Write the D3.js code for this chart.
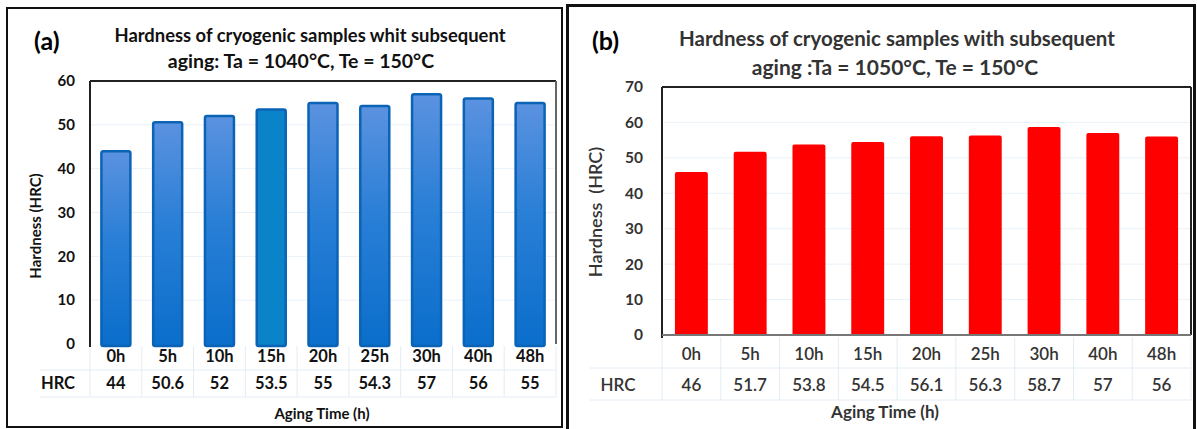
<!DOCTYPE html>
<html>
<head>
<meta charset="utf-8">
<script src="https://cdn.jsdelivr.net/npm/d3@7/dist/d3.min.js"></script>
<style>
  html, body { margin: 0; padding: 0; background: #fff; }
  svg { display: block; }
  text { font-family: Lato, "Open Sans", sans-serif; }
</style>
</head>
<body>
<svg id="chart" width="1197" height="429"></svg>
<script>
// Aging times shared by both series
const categories = ["0h", "5h", "10h", "15h", "20h", "25h", "30h", "40h", "48h"];

// Hardness (HRC) after cryogenic treatment and aging
const hardnessA = [44, 50.6, 52, 53.5, 55, 54.3, 57, 56, 55];        // Ta = 1040 °C
const hardnessB = [46, 51.7, 53.8, 54.5, 56.1, 56.3, 58.7, 57, 56];  // Ta = 1050 °C

// Y-axis ticks
const ticksA = [0, 10, 20, 30, 40, 50, 60];
const ticksB = [0, 10, 20, 30, 40, 50, 60, 70];

// Text
const titleA = ["Hardness of cryogenic samples whit subsequent", "aging: Ta = 1040°C, Te = 150°C"];
const titleB = ["Hardness of cryogenic samples with subsequent", "aging :Ta = 1050°C, Te = 150°C"];

const svg = d3.select("#chart");
const defs = svg.append("defs");

const grad = defs.append("linearGradient")
  .attr("id", "blueBar").attr("x1", 0).attr("y1", 0).attr("x2", 0).attr("y2", 1);
grad.append("stop").attr("offset", "0%").attr("stop-color", "#5b92e0");
grad.append("stop").attr("offset", "45%").attr("stop-color", "#2a7fd6");
grad.append("stop").attr("offset", "100%").attr("stop-color", "#0a6ecb");

function drawPanel(p) {
  const g = svg.append("g");

  // panel frame
  g.append("rect")
    .attr("x", p.box[0]).attr("y", p.box[1])
    .attr("width", p.box[2]).attr("height", p.box[3])
    .attr("fill", "none").attr("stroke", "#111").attr("stroke-width", p.boxStroke);

  const x = d3.scaleBand().domain(p.categories).range([p.left, p.right])
    .paddingInner(0.44).paddingOuter(0.22);
  const y = d3.scaleLinear().domain([0, d3.max(p.ticks)]).range([p.bottom, p.top]);
  const step = x.step();

  // gridlines
  g.append("g").selectAll("line").data(p.ticks.slice(1, -1)).join("line")
    .attr("x1", p.left).attr("x2", p.right)
    .attr("y1", d => y(d)).attr("y2", d => y(d))
    .attr("stroke", "#e9f2f9").attr("stroke-width", 1);

  // table grid under the axis
  const tg = g.append("g").attr("stroke", "#e3ecf5").attr("stroke-width", 1);
  const edges = p.categories.map(c => x(c) + x.bandwidth() / 2 - step / 2).concat([p.right]);
  tg.selectAll("line.v").data(edges).join("line").attr("class", "v")
    .attr("x1", d => d).attr("x2", d => d)
    .attr("y1", p.bottom + 2).attr("y2", p.tableBottom);
  tg.append("line").attr("x1", p.tableLeft).attr("x2", p.right)
    .attr("y1", p.rowSplit).attr("y2", p.rowSplit);
  tg.append("line").attr("x1", p.tableLeft).attr("x2", p.right)
    .attr("y1", p.tableBottom).attr("y2", p.tableBottom);

  // bars
  g.append("g").selectAll("rect").data(p.values).join("rect")
    .attr("x", (d, i) => x(p.categories[i]))
    .attr("y", d => y(d))
    .attr("width", x.bandwidth())
    .attr("height", d => p.bottom - y(d) + p.barOverhang)
    .attr("rx", p.barRadius)
    .attr("fill", (d, i) => p.fill(i))
    .attr("stroke", p.barStroke)
    .attr("stroke-width", p.barStroke === "none" ? 0 : 2.5);

  // plot frame
  const fr = g.append("g").attr("fill", "none");
  fr.append("line").attr("x1", p.left).attr("x2", p.right).attr("y1", p.top).attr("y2", p.top)
    .attr("stroke", "#222").attr("stroke-width", 2);
  fr.append("line").attr("x1", p.left).attr("x2", p.left).attr("y1", p.top).attr("y2", p.bottom + 3)
    .attr("stroke", "#222").attr("stroke-width", 2);
  fr.append("line").attr("x1", p.right).attr("x2", p.right).attr("y1", p.top).attr("y2", p.bottom)
    .attr("stroke", p.rightFrame).attr("stroke-width", 2);
  if (p.bottomFrame) {
    fr.append("line").attr("x1", p.left).attr("x2", p.right).attr("y1", p.bottom).attr("y2", p.bottom)
      .attr("stroke", p.bottomFrame).attr("stroke-width", 2);
  }

  // y axis labels
  const ax = g.append("g").attr("transform", `translate(${p.tickX},0)`)
    .call(d3.axisLeft(y).tickValues(p.ticks).tickSize(0).tickPadding(0));
  ax.select(".domain").remove();
  ax.selectAll("text")
    .attr("font-family", "Lato, sans-serif")
    .attr("font-size", p.tickSize).attr("font-weight", 700).attr("fill", p.textColor);

  // category row and value row
  g.append("g").selectAll("text").data(p.categories).join("text")
    .attr("x", d => x(d) + x.bandwidth() / 2).attr("y", p.catY)
    .attr("text-anchor", "middle").attr("dominant-baseline", "central")
    .attr("font-size", p.rowSize).attr("font-weight", p.rowWeight).attr("fill", p.textColor)
    .text(d => d);
  g.append("g").selectAll("text").data(p.values).join("text")
    .attr("x", (d, i) => x(p.categories[i]) + x.bandwidth() / 2).attr("y", p.valY)
    .attr("text-anchor", "middle").attr("dominant-baseline", "central")
    .attr("font-size", p.rowSize).attr("font-weight", p.rowWeight).attr("fill", p.textColor)
    .text(d => d);
  g.append("text").attr("x", p.hrcX).attr("y", p.valY)
    .attr("text-anchor", "middle").attr("dominant-baseline", "central")
    .attr("font-size", p.rowSize).attr("font-weight", p.rowWeight).attr("fill", p.textColor)
    .text("HRC");

  // axis titles
  g.append("text").attr("x", p.xTitle[0]).attr("y", p.xTitle[1])
    .attr("text-anchor", "middle").attr("dominant-baseline", "central")
    .attr("font-size", p.axisTitleSize).attr("font-weight", 700).attr("fill", p.textColor)
    .text("Aging Time (h)");
  g.append("text")
    .attr("transform", `translate(${p.yTitle[0]},${p.yTitle[1]}) rotate(-90)`)
    .attr("text-anchor", "middle").attr("dominant-baseline", "central")
    .attr("font-size", p.yTitleSize).attr("font-weight", p.yTitleWeight).attr("fill", p.textColor)
    .attr("xml:space", "preserve")
    .text(p.yTitleText);

  // panel letter and title
  g.append("text").attr("x", p.letter[0]).attr("y", p.letter[1])
    .attr("dominant-baseline", "central")
    .attr("font-size", 25).attr("font-weight", 700).attr("fill", "#000")
    .text(p.letterText);
  p.title.forEach((t, i) => {
    g.append("text").attr("x", p.titleX[i]).attr("y", p.titleY[i])
      .attr("text-anchor", "middle").attr("dominant-baseline", "central")
      .attr("font-size", p.titleSize[i]).attr("font-weight", 700).attr("fill", p.titleColor)
      .text(t);
  });
}

drawPanel({
  categories: categories, values: hardnessA, ticks: ticksA,
  box: [7, 8, 555, 419], boxStroke: 2,
  left: 90, right: 556, top: 81, bottom: 344,
  tableLeft: 40, rowSplit: 370, tableBottom: 397,
  barOverhang: 2, barRadius: 2,
  fill: i => categories[i] === "15h" ? "#0a83c8" : "url(#blueBar)",
  barStroke: "#0b63b6",
  rightFrame: "#666", bottomFrame: null,
  tickX: 75, tickSize: 15, textColor: "#111",
  catY: 356, valY: 383, rowSize: 16.5, rowWeight: 700, hrcX: 58,
  xTitle: [322, 413], axisTitleSize: 15,
  yTitle: [35, 226], yTitleSize: 15, yTitleWeight: 700,
  yTitleText: "Hardness (HRC)",
  letter: [34, 40], letterText: "(a)",
  title: titleA, titleX: [310, 301], titleY: [35, 60], titleSize: [18.4, 19.5], titleColor: "#111"
});

drawPanel({
  categories: categories, values: hardnessB, ticks: ticksB,
  box: [567.5, 5.5, 627, 425], boxStroke: 3,
  left: 662, right: 1191, top: 87, bottom: 335,
  tableLeft: 590, rowSplit: 368, tableBottom: 400,
  barOverhang: 1, barRadius: 2,
  fill: () => "#ff0000",
  barStroke: "none",
  rightFrame: "#222", bottomFrame: "#777",
  tickX: 643, tickSize: 15.5, textColor: "#333",
  catY: 353, valY: 384, rowSize: 17, rowWeight: 600, hrcX: 618,
  xTitle: [885, 411], axisTitleSize: 17,
  yTitle: [595, 212], yTitleSize: 18, yTitleWeight: 600,
  yTitleText: "Hardness  (HRC)",
  letter: [592, 40], letterText: "(b)",
  title: titleB, titleX: [897, 895], titleY: [38, 66], titleSize: [20.5, 21], titleColor: "#333"
});
</script>
</body>
</html>
